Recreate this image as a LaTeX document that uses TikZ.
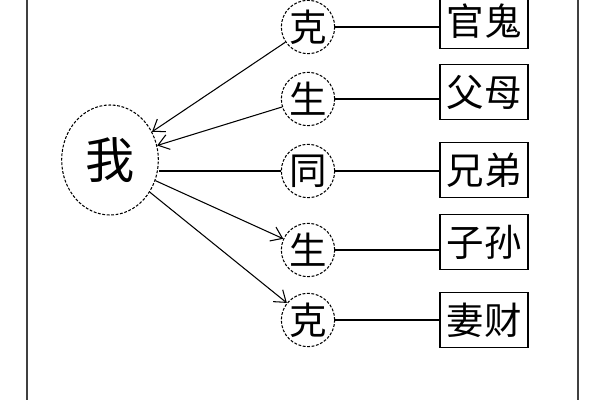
\documentclass[tikz,border=0pt]{standalone}
\usepackage{fontspec}
\setmainfont{Noto Sans CJK SC}
\usepackage{tikz}
\usetikzlibrary{shapes.geometric, arrows.meta, positioning, calc}

\begin{document}
\begin{tikzpicture}[x=0.03cm, y=-0.03cm,
    >={Straight Barb[length=9pt,width=13pt]},
    rel/.style={circle,draw,dashed,dash pattern=on 2.4pt off 1.4pt,line width=0.9pt,minimum size=1.6cm,inner sep=0pt,font=\fontsize{32}{32}\selectfont},
    kin/.style={rectangle,draw,line width=1.1pt,minimum width=2.64cm,minimum height=1.65cm,inner sep=0pt,font=\fontsize{32}{32}\selectfont},
    link/.style={line width=0.9pt}]
\useasboundingbox (0,0) rectangle (600,400);
% Frame
\draw[black!75,line width=1.4pt] (27,0) -- (27,400);
\draw[black!75,line width=1.4pt] (578,0) -- (578,400);
% Self
\node[ellipse,draw,dashed,dash pattern=on 2.4pt off 1.4pt,line width=0.9pt,minimum width=2.9cm,minimum height=3.3cm,inner sep=0pt,font=\fontsize{42}{42}\selectfont] (me) at (110,160) {我};
% Relations
\foreach \n/\t/\y in {ke1/克/27, sheng1/生/99, tong/同/171, sheng2/生/250, ke2/克/320} {
    \node[rel] (\n) at (308,\y) {\t};
}
% Kin
\foreach \n/\t/\y in {gg/官鬼/21, fm/父母/92, xd/兄弟/170, zs/子孙/242, qc/妻财/320} {
    \node[kin] (\n) at (484,\y) {\t};
}
% Connections
\foreach \a/\b in {ke1/gg, sheng1/fm, tong/xd, sheng2/zs, ke2/qc} {
    \draw[link] (\a.east) -- (\a.east -| \b.west);
}
\draw[link] (me.east |- tong.west) -- (tong.west);
\foreach \a in {ke1,sheng1} {
    \draw[link,->] (\a) -- (me);
}
\foreach \b in {sheng2,ke2} {
    \draw[link,->] (me) -- (\b);
}
\end{tikzpicture}
\end{document}
